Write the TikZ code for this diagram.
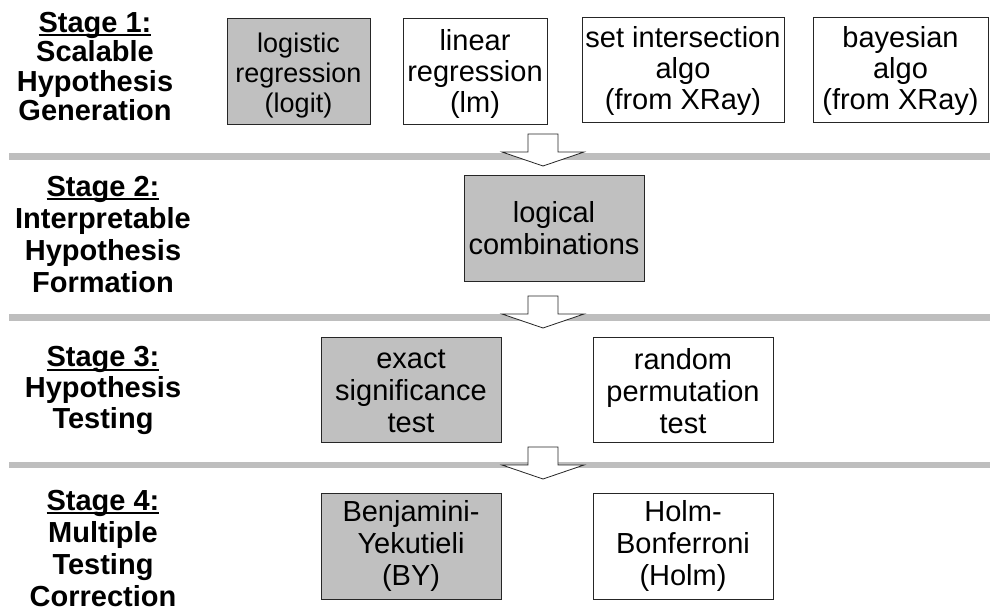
\documentclass[tikz,border=0pt]{standalone}
\usepackage{fontspec}
\setmainfont{Liberation Sans}
\definecolor{boxgray}{RGB}{192,192,192}
\definecolor{bargray}{RGB}{190,190,190}
\newcommand\stagehead[1]{\setbox0\hbox{#1}\rlap{\rule[-4pt]{\wd0}{2pt}}\box0}
\newcommand\lift[1]{\rule{0pt}{#1}}
\begin{document}
\begin{tikzpicture}[x=1pt,y=-1pt,
  box/.style={draw=black!85, line width=0.9pt, align=center, inner sep=0pt,
    font=\fontsize{29}{32}\selectfont},
  topbox/.style={font=\fontsize{29}{31}\selectfont},
  shaded/.style={box, fill=boxgray},
  plain/.style={box, fill=white},
  stagelabel/.style={align=center, inner sep=0pt,
    font=\bfseries\fontsize{29}{32}\selectfont},
  bar/.style={fill=bargray, draw=none},
  downarrow/.pic={\draw[fill=white, draw=black!85, line width=0.8pt, line join=miter]
    (-15,0) -- (-15,18) -- (-41,18) -- (0,32) -- (41,18) -- (15,18) -- (15,0) -- cycle;}]
\useasboundingbox (0,0) rectangle (990,611);

% separator bars
\fill[bar] (9,153) rectangle (990,160);
\fill[bar] (9,314) rectangle (990,321);
\fill[bar] (9,462) rectangle (990,468);

% stage labels
\node[stagelabel, font=\bfseries\fontsize{29}{29.5}\selectfont] (s1) at (95,66.5)
  {\stagehead{Stage 1:}\\Scalable\\Hypothesis\\Generation};
\node[stagelabel] (s2) at (103,234.5)
  {\stagehead{Stage 2:}\\Interpretable\\Hypothesis\\Formation};
\node[stagelabel, font=\bfseries\fontsize{29}{31}\selectfont] (s3) at (103,390.5)
  {\stagehead{Stage 3:}\\Hypothesis\\Testing};
\node[stagelabel] (s4) at (103,548.5)
  {\stagehead{Stage 4:}\\Multiple\\Testing\\Correction};

% stage 1 boxes
\node[shaded, minimum width=143pt, minimum height=106pt, font=\fontsize{27}{30}\selectfont]
  (logit) at (298.5,71) {\lift{28pt}logistic\\regression\\(logit)};
\node[plain, topbox, minimum width=144pt, minimum height=106pt] (lm) at (475,71)
  {\lift{26pt}linear\\regression\\(lm)};
\node[plain, topbox, minimum width=202pt, minimum height=105pt] (setint) at (683,69.5)
  {\lift{25pt}set intersection\\algo\\(from XRay)};
\node[plain, topbox, minimum width=175pt, minimum height=105pt] (bayes) at (900.5,69.5)
  {\lift{25pt}bayesian\\algo\\(from XRay)};

% stage 2
\node[shaded, minimum width=180pt, minimum height=106pt] (logic) at (554,228)
  {logical\\combinations};

% stage 3
\node[shaded, minimum width=180pt, minimum height=105pt] (exact) at (411,389.5)
  {\lift{23pt}exact\\significance\\test};
\node[plain, minimum width=180pt, minimum height=105pt] (perm) at (683,389.5)
  {\lift{25pt}random\\permutation\\test};

% stage 4
\node[shaded, minimum width=180pt, minimum height=106pt] (by) at (411,546)
  {Benjamini-\\Yekutieli\\(BY)};
\node[plain, minimum width=180pt, minimum height=106pt] (holm) at (683,546)
  {Holm-\\Bonferroni\\(Holm)};

% block arrows between stages
\coordinate (arr1) at (543,134);
\coordinate (arr2) at (543,296);
\coordinate (arr3) at (543,447);
\pic at (arr1) {downarrow};
\pic at (arr2) {downarrow};
\pic at (arr3) {downarrow};
\end{tikzpicture}
\end{document}
